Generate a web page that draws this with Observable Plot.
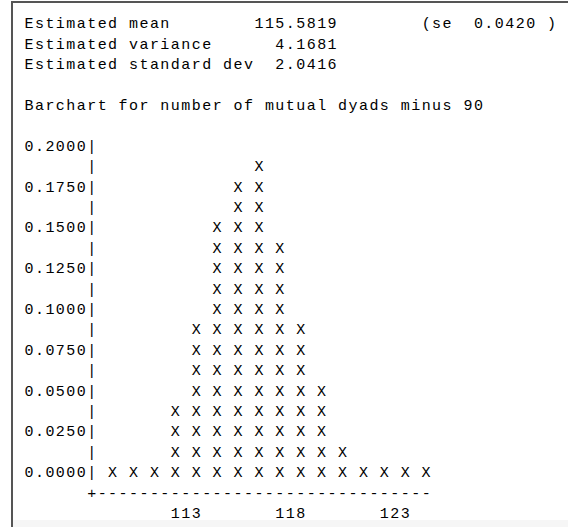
<!DOCTYPE html>
<html><head><meta charset="utf-8">
<script src="https://cdn.jsdelivr.net/npm/d3@7"></script>
<script src="https://cdn.jsdelivr.net/npm/@observablehq/plot@0.6"></script>
<style>
html,body{margin:0;padding:0;background:#fff;width:568px;height:527px;overflow:hidden}
#wrap{position:relative;width:568px;height:527px}
#chart{position:absolute;left:0;top:0}
#chart svg text{white-space:pre;letter-spacing:1.45px}
.bl{position:absolute;left:11px;top:1px;width:2px;height:526px;background:#555}
.bt{position:absolute;left:11px;top:1px;width:557px;height:2px;background:#555}
.bs{position:absolute;left:13px;top:520px;width:555px;height:7px;background:#f6f6f6}
</style></head><body>
<div id="wrap"><div id="chart"></div><div class="bs"></div><div class="bl"></div><div class="bt"></div></div>
<script>
// ---- data ----
const statLabels = ["Estimated mean", "Estimated variance", "Estimated standard dev"];
const statValues = [115.5819, 4.1681, 2.0416];
const meanSE = 0.0420;
const chartTitle = "Barchart for number of mutual dyads minus 90";
const dyads = [109, 110, 111, 112, 113, 114, 115, 116, 117, 118, 119, 120, 121, 122, 123, 124];
const proportions = [0.001, 0.003, 0.008, 0.045, 0.095, 0.155, 0.180, 0.190, 0.145, 0.095, 0.055, 0.020, 0.006, 0.003, 0.001, 0.001];
const yTicks = [0, 0.025, 0.05, 0.075, 0.1, 0.125, 0.15, 0.175, 0.2];
const yHalfTicks = [0.0125, 0.0375, 0.0625, 0.0875, 0.1125, 0.1375, 0.1625, 0.1875];
const xTicks = [113, 118, 123];

// ---- character grid layout ----
const W = 10.45, LH = 20.4, X0 = 24, Y1 = 23;
const colX = c => X0 + c * W;
const lineY = n => Y1 + (n - 1) * LH;
const font = {fontFamily: "'Liberation Mono','Courier New',monospace", fontSize: 15, fill: "#000", textAnchor: "start", lineAnchor: "middle"};

const rowLevels = [...yTicks, ...yHalfTicks].sort((a, b) => a - b);
const cells = dyads.flatMap((v, i) =>
  rowLevels.filter(l => l <= proportions[i] + 1e-9).map(l => ({dyad: v, level: l})));

const marks = [];
statLabels.forEach((lab, i) => {
  const val = statValues[i].toFixed(4);
  let s = lab.padEnd(30 - val.length) + val;
  if (i === 0) s = s.padEnd(38) + `(se  ${meanSE.toFixed(4)} )`;
  marks.push(Plot.text([s], {...font, frameAnchor: "top-left", dx: X0, dy: lineY(i + 1)}));
});
marks.push(Plot.text([chartTitle], {...font, frameAnchor: "top-left", dx: X0, dy: lineY(5)}));
// y axis, ascii style
marks.push(Plot.text(yTicks, {...font, y: d => d, text: d => d.toFixed(4) + "|", frameAnchor: "left", dx: X0}));
marks.push(Plot.text(yHalfTicks, {...font, y: d => d, text: () => "|", frameAnchor: "left", dx: colX(6)}));
// bars made of X
marks.push(Plot.text(cells, {...font, x: "dyad", y: "level", text: () => "X"}));
// x axis line and labels
marks.push(Plot.text(["+" + "-".repeat(2 * (dyads.length - 1) + 2)], {...font, frameAnchor: "top-left", dx: colX(6), dy: lineY(24)}));
marks.push(Plot.text(xTicks, {...font, x: d => d, text: d => String(d), frameAnchor: "top", dy: lineY(25), dx: -2 * W}));

const chart = Plot.plot({
  width: 568, height: 527, margin: 0,
  style: {background: "transparent", fontFamily: "'Liberation Mono',monospace", fontSize: "15px"},
  x: {domain: [dyads[0], dyads[dyads.length - 1]], range: [colX(8), colX(8 + 2 * (dyads.length - 1))], axis: null},
  y: {domain: [0, 0.2], range: [lineY(23), lineY(7)], axis: null},
  marks
});
document.getElementById("chart").appendChild(chart);
</script>
</body></html>
